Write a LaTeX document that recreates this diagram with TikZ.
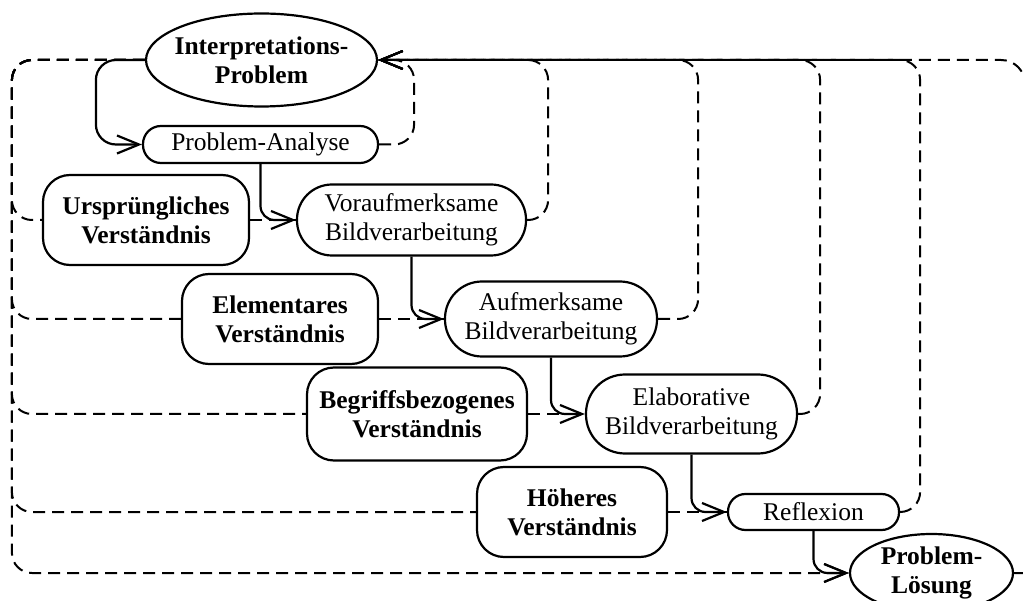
\documentclass[tikz,border=0pt]{standalone}
\usepackage{fontspec}
\setmainfont{Liberation Serif}
\usetikzlibrary{shapes.geometric,arrows.meta}
\begin{document}
\begin{tikzpicture}[x=1pt,y=-1pt,
  every node/.style={font=\fontsize{25.5}{29}\selectfont, align=center, inner sep=0pt, line width=2.2pt},
  oval/.style={draw, ellipse, inner xsep=-6pt, font=\fontsize{25.5}{29}\selectfont\bfseries},
  level/.style={draw, rectangle, rounded corners=27pt, font=\fontsize{25.5}{29}\selectfont\bfseries},
  stage/.style={draw, rectangle},
  flow/.style={line width=2.2pt, rounded corners=14pt, -{Straight Barb[length=22pt,width=18pt]}},
  fb/.style={line width=2pt, dash pattern=on 12pt off 7pt, rounded corners=20pt},
  fbarrow/.style={fb, -{Straight Barb[length=22pt,width=18pt]}},
]
\useasboundingbox (0,0) rectangle (1023,601);
\clip (0,0) rectangle (1023,601);

% problem, analysis and solution
\node[oval, minimum width=231pt, minimum height=93pt] (ip) at (261.5,60) {Interpretations-\\Problem};
\node[stage, rounded corners=18pt, minimum width=235pt, minimum height=37pt] (pa) at (260.5,144.5) {Problem-Analyse};
\node[oval, minimum width=163pt, minimum height=78pt] (pl) at (931.5,573) {Problem-\\Lösung};

% levels of understanding
\node[level, minimum width=206pt, minimum height=90pt] (u1) at (146,220) {Ursprüngliches\\Verständnis};
\node[level, minimum width=196pt, minimum height=90pt] (u2) at (280,319) {Elementares\\Verständnis};
\node[level, minimum width=220pt, minimum height=93pt] (u3) at (417,414) {Begriffsbezogenes\\Verständnis};
\node[level, minimum width=190pt, minimum height=90pt] (u4) at (572,512) {Höheres\\Verständnis};

% processing stages
\node[stage, rounded corners=35pt, minimum width=229pt, minimum height=71pt] (b1) at (411.5,220) {Voraufmerksame\\Bildverarbeitung};
\node[stage, rounded corners=37pt, minimum width=212pt, minimum height=75pt] (b2) at (551,319) {Aufmerksame\\Bildverarbeitung};
\node[stage, rounded corners=39pt, minimum width=211pt, minimum height=79pt] (b3) at (691.5,414) {Elaborative\\Bildverarbeitung};
\node[stage, rounded corners=17.5pt, minimum width=171pt, minimum height=36pt] (b4) at (813.5,512) {Reflexion};

% problem feeds every level of understanding
\draw[fb] (ip.west) -- ++(-133,0) |- (u1.west);
\draw[fb] (ip.west) -- ++(-133,0) |- (u2.west);
\draw[fb] (ip.west) -- ++(-133,0) |- (u3.west);
\draw[fb] (ip.west) -- ++(-133,0) |- (u4.west);
\draw[fbarrow] (ip.west) -- ++(-133,0) |- (pl.west);

% understanding enters the stages
\draw[fb] (u1.east) -- (b1.west);
\draw[fb] (u2.east) -- (b2.west);
\draw[fb] (u3.east) -- (b3.west);
\draw[fb] (u4.east) -- (b4.west);

% feedback to the problem
\draw[fbarrow] (pa.east) -- ++(35,0) |- (ip.east);
\draw[fbarrow] (b1.east) -- ++(21,0) |- (ip.east);
\draw[fbarrow] (b2.east) -- ++(40,0) |- (ip.east);
\draw[fbarrow] (b3.east) -- ++(22,0) |- (ip.east);
\draw[fbarrow] (b4.east) -- ++(20,0) |- (ip.east);
\draw[fbarrow, sharp corners] (pl.east) -- ++(11,0) -- ++(0,-20) [rounded corners=24pt] |- (ip.east);

% main sequence
\draw[flow, rounded corners=20pt] (ip.west) -- ++(-49,0) |- (pa.west);
\draw[flow] (pa.south) |- (b1.west);
\draw[flow] (b1.south) |- (b2.west);
\draw[flow] (b2.south) |- (b3.west);
\draw[flow] (b3.south) |- (b4.west);
\draw[flow] (b4.south) |- (pl.west);
\end{tikzpicture}
\end{document}
